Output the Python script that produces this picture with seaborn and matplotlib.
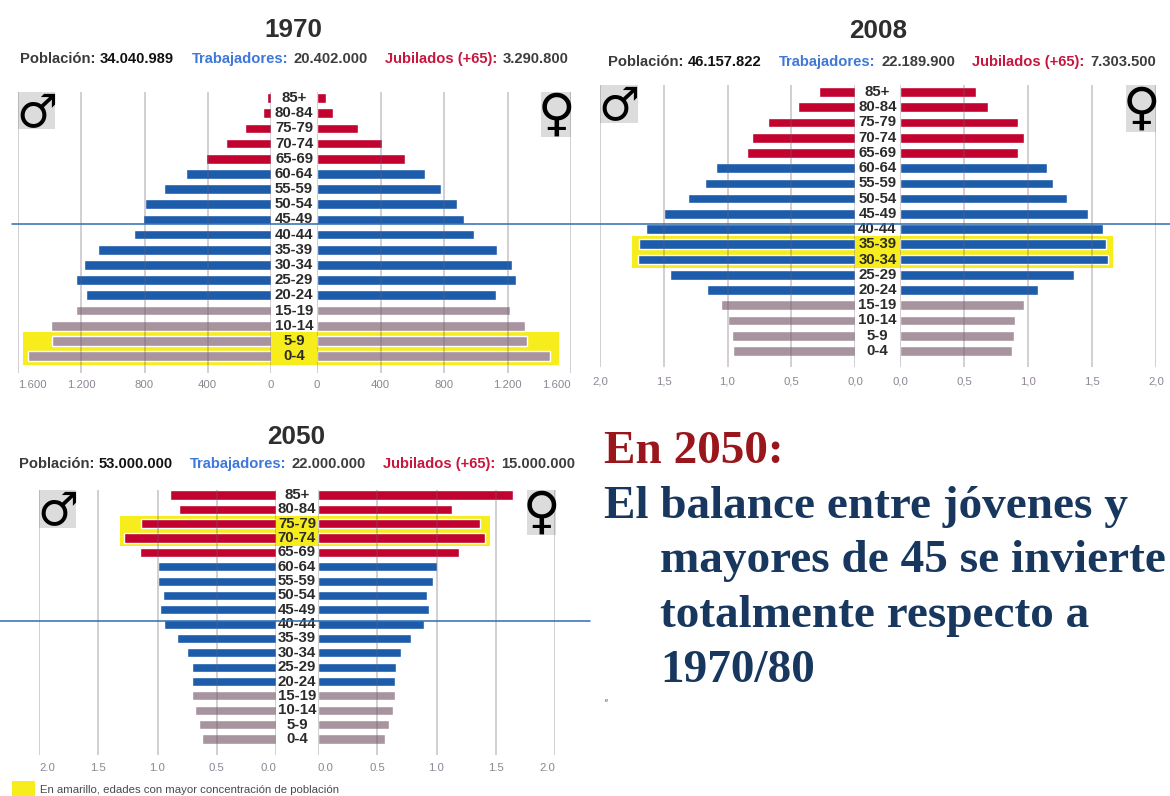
import matplotlib
matplotlib.use("Agg")
import matplotlib.pyplot as plt
import pandas as pd
import seaborn as sns
from matplotlib.patches import Rectangle

W, H = 1170, 796

edades = ["85+", "80-84", "75-79", "70-74", "65-69", "60-64", "55-59", "50-54", "45-49",
          "40-44", "35-39", "30-34", "25-29", "20-24", "15-19", "10-14", "5-9", "0-4"]
grupos = ["jubilados"] * 5 + ["trabajadores"] * 9 + ["jovenes"] * 4

h1970 = [24, 52, 162, 286, 410, 536, 676, 795, 810, 869, 1095, 1181, 1231, 1169, 1231, 1390, 1386, 1536]
m1970 = [55, 102, 256, 410, 552, 678, 782, 881, 924, 986, 1133, 1227, 1256, 1126, 1216, 1308, 1322, 1469]
h2008 = [.28, .446, .684, .81, .85, 1.087, 1.177, 1.307, 1.5, 1.64, 1.696, 1.70, 1.452, 1.157, 1.052, .997, .965, .954]
m2008 = [.59, .69, .925, .965, .92, 1.147, 1.194, 1.306, 1.468, 1.587, 1.607, 1.624, 1.358, 1.075, .965, .90, .887, .873]
h2050 = [.894, .82, 1.138, 1.28, 1.144, 1.0, 1.0, .95, .983, .945, .837, .751, .707, .71, .713, .681, .653, .621]
m2050 = [1.642, 1.13, 1.37, 1.41, 1.19, 1.0, .973, .92, .935, .894, .786, .697, .66, .653, .65, .634, .602, .564]

ticks1970 = [0, 400, 800, 1200, 1600]
labels1970 = ["0", "400", "800", "1.200", "1.600"]
ticks_mill = [0, 0.5, 1.0, 1.5, 2.0]
labels2008 = ["0,0", "0,5", "1,0", "1,5", "2,0"]
labels2050 = ["0.0", "0.5", "1.0", "1.5", "2.0"]

resumen1970 = ["34.040.989", "20.402.000", "3.290.800"]
resumen2008 = ["46.157.822", "22.189.900", "7.303.500"]
resumen2050 = ["53.000.000", "22.000.000", "15.000.000"]

colores = {"jubilados": "#c2022f", "trabajadores": "#1d5bab", "jovenes": "#a8949f"}
AMARILLO = "#f7ec1c"
GRID = "#6f5f72"
TICK = "#8f8494"
FUENTE = "Liberation Sans"

sns.set_theme(style="white")
plt.rcParams["font.family"] = FUENTE

fig = plt.figure(figsize=(W / 100, H / 100), dpi=100, facecolor="white")


def capa(z):
    # full figure axes in pixel coordinates, for everything that is not a bar
    ax = fig.add_axes([0, 0, 1, 1], zorder=z)
    ax.set_xlim(0, W)
    ax.set_ylim(H, 0)
    ax.axis("off")
    return ax


fondo = capa(0)
frente = capa(5)


def lado(x0, x1, top, bottom, y0, paso, valores, xmax, ticks, labels, invertir, pad, corridos):
    ax = fig.add_axes([x0 / W, 1 - bottom / H, (x1 - x0) / W, (bottom - top) / H], zorder=2)
    df = pd.DataFrame({"edad": edades, "valor": valores, "grupo": grupos})
    sns.barplot(data=df, y="edad", x="valor", hue="grupo", palette=colores, order=edades,
                dodge=False, legend=False, width=0.64, saturation=1, ax=ax)
    ax.set_ylim((bottom - y0) / paso, (top - y0) / paso)
    ax.set_xlim(xmax, 0) if invertir else ax.set_xlim(0, xmax)
    ax.patch.set_visible(False)
    sns.despine(ax=ax, left=True, bottom=True)
    ax.set_xticks(ticks, labels)
    ax.set_xlabel("")
    ax.set_ylabel("")
    ax.set_yticks([])
    ax.tick_params(axis="x", length=0, pad=pad, labelsize=8.2, labelcolor=TICK)
    ax.grid(axis="x", color=GRID, alpha=0.38, lw=1.1)
    ax.set_axisbelow(False)
    # some tick labels sit off their gridline in the original
    for i in corridos:
        exterior = i == len(ticks) - 1
        izquierda = invertir == exterior
        ax.get_xticklabels()[i].set_ha("left" if izquierda else "right")
    return ax


def piramide(anio, hombres, mujeres, xs, top, bottom, y0, paso, xmax, ticks, labels,
             titulo_xy, resumen, xs_res, y_res, banda, cajas, pad, corridos):
    xl, zl, zr, xr = xs
    ax_l = lado(xl, zl, top, bottom, y0, paso, hombres, xmax, ticks, labels, True, pad, corridos)
    ax_r = lado(zr, xr, top, bottom, y0, paso, mujeres, xmax, ticks, labels, False, pad, corridos)

    # edad labels in the gap between both sides
    cx = -(zr - zl) / 2 / (xr - zr)
    for i, e in enumerate(edades):
        ax_r.text(cx, i, e, transform=ax_r.get_yaxis_transform(), ha="center", va="center",
                  fontsize=10.8, fontweight="bold", color="#2b2b2b", clip_on=False)

    fondo.add_patch(Rectangle((banda[0], banda[2]), banda[1] - banda[0], banda[3] - banda[2],
                              color=AMARILLO, lw=0))

    frente.text(titulo_xy[0], titulo_xy[1], anio, ha="center", va="center", fontsize=18.8,
                fontweight="bold", color="#2e2e2e")
    textos = ["Población:", resumen[0], "Trabajadores:", resumen[1], "Jubilados (+65):", resumen[2]]
    tonos = ["#3a3a3a", "#111111", "#3f78d8", "#3d3d3d", "#c8163f", "#3d3d3d"]
    for x, t, c in zip(xs_res, textos, tonos):
        frente.text(x, y_res, t, ha="left", va="center", fontsize=10.6, fontweight="bold", color=c)

    for (x0, x1, y1, y2), sim, fs, dy in zip(cajas, ["\u2642", "\u2640"], [33, 37], [4, 1]):
        fondo.add_patch(Rectangle((x0, y1), x1 - x0, y2 - y1, color="#dcdcdc", lw=0))
        frente.text((x0 + x1) / 2, (y1 + y2) / 2 + dy, sim, ha="center", va="center", fontsize=fs,
                    color="black", family="DejaVu Sans")
    return ax_l, ax_r


a = piramide("1970", h1970, m1970, (18, 271, 317, 571), 92, 373, 98, 15.18, 1600, ticks1970, labels1970,
             (293, 30), resumen1970, (20, 100, 192, 293, 385, 503), 59, (23, 559, 332, 365),
             [(18, 55, 92, 129), (541, 571, 92, 137)], 5, [4])
b = piramide("2008", h2008, m2008, (600, 855, 900, 1156), 85, 367, 92, 15.23, 2.0, ticks_mill, labels2008,
             (878, 31), resumen2008, (608, 688, 779, 881, 972, 1090), 62, (632, 1113, 236, 268),
             [(600, 638, 85, 123), (1126, 1156, 85, 132)], 7, [])
c = piramide("2050", h2050, m2050, (39, 276, 318, 555), 490, 755, 495, 14.35, 2.0, ticks_mill, labels2050,
             (296, 437), resumen2050, (19, 99, 190, 292, 383, 501), 464, (120, 490, 516, 546),
             [(39, 76, 490, 528), (527, 556, 490, 535)], 6, [0, 4])

# long blue rules across the panels
frente.plot([12, 1170], [224, 224], color="#2f6cb0", lw=1.1)
frente.plot([0, 590], [621, 621], color="#2f6cb0", lw=1.1)

# legend of the yellow band
fondo.add_patch(Rectangle((12, 781), 23, 15, color=AMARILLO, lw=0))
frente.text(40, 790, "En amarillo, edades con mayor concentración de población", ha="left", va="center",
            fontsize=8.2, color="#4a4a4a")

# text block at bottom right
SERIF = "Liberation Serif"
AZUL = "#17375e"
TAM = 34
frente.text(604, 452, "En 2050:", family=SERIF, fontsize=TAM, fontweight="bold", color="#99161c", va="center")
frente.text(604, 507, "El balance entre jóvenes y", family=SERIF, fontsize=TAM, fontweight="bold", color=AZUL, va="center")
for y, linea in zip([561, 616, 671], ["mayores de 45 se invierte", "totalmente respecto a", "1970/80"]):
    frente.text(660, y, linea, family=SERIF, fontsize=TAM, fontweight="bold", color=AZUL, va="center", clip_on=True)
frente.text(606, 701, "e", family=SERIF, fontsize=5, color="#99161c", va="center", ha="center")

fig.savefig("out.png", dpi=100)
